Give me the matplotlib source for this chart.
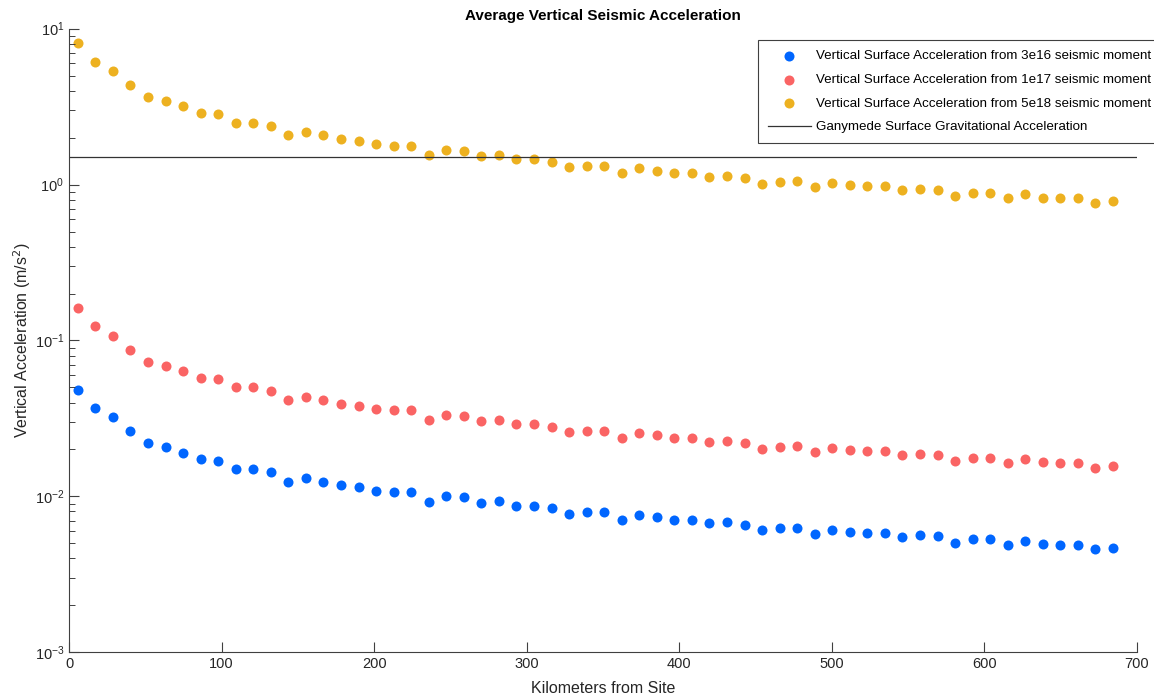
import numpy as np
import matplotlib
matplotlib.use("Agg")
import matplotlib.pyplot as plt

plt.rcParams['font.family'] = ['Liberation Sans', 'DejaVu Sans']

# distance bins (km), centre of each 11.5 km bin
km = np.arange(5.75, 690, 11.5)

acc_3e16 = [0.0484, 0.0368, 0.0322, 0.0262, 0.0220, 0.0206, 0.0191, 0.0173, 0.0169, 0.0150,
            0.0150, 0.0143, 0.0124, 0.0131, 0.0124, 0.0118, 0.0115, 0.0109, 0.0107, 0.0107,
            0.00924, 0.0100, 0.00984, 0.00912, 0.0093, 0.0087, 0.0087, 0.0084, 0.00774, 0.00792,
            0.00792, 0.00708, 0.00762, 0.00738, 0.00708, 0.00708, 0.00672, 0.00681, 0.0066, 0.00606,
            0.00624, 0.0063, 0.00576, 0.00612, 0.00594, 0.00585, 0.00585, 0.00552, 0.00562, 0.00556,
            0.00505, 0.0053, 0.00532, 0.0049, 0.00521, 0.00494, 0.0049, 0.0049, 0.00459, 0.00469]

acc_1e17 = [0.161, 0.123, 0.107, 0.0874, 0.0732, 0.0688, 0.0638, 0.0578, 0.0564, 0.0500,
            0.0500, 0.0476, 0.0414, 0.0436, 0.0414, 0.0392, 0.0382, 0.0364, 0.0356, 0.0356,
            0.0308, 0.0334, 0.0328, 0.0304, 0.0310, 0.0290, 0.0290, 0.0280, 0.0258, 0.0264,
            0.0264, 0.0236, 0.0254, 0.0246, 0.0236, 0.0236, 0.0224, 0.0227, 0.0220, 0.0202,
            0.0208, 0.0210, 0.0192, 0.0204, 0.0198, 0.0195, 0.0195, 0.0184, 0.0187, 0.0185,
            0.0168, 0.0177, 0.0177, 0.0163, 0.0174, 0.0165, 0.0163, 0.0163, 0.0153, 0.0156]

acc_5e18 = [8.06, 6.14, 5.36, 4.37, 3.66, 3.44, 3.19, 2.89, 2.82, 2.50,
            2.50, 2.38, 2.07, 2.18, 2.07, 1.96, 1.91, 1.82, 1.78, 1.78,
            1.54, 1.67, 1.64, 1.52, 1.55, 1.45, 1.45, 1.40, 1.29, 1.32,
            1.32, 1.18, 1.27, 1.23, 1.18, 1.18, 1.12, 1.135, 1.10, 1.01,
            1.04, 1.05, 0.96, 1.02, 0.99, 0.975, 0.975, 0.92, 0.937, 0.927,
            0.841, 0.883, 0.887, 0.817, 0.868, 0.824, 0.817, 0.817, 0.765, 0.782]

g_ganymede = 1.5

fig = plt.figure(figsize=(11.54, 6.98), dpi=100)
ax = fig.add_axes([0.0598, 0.0655, 0.9255, 0.8934])

ms = 52
ax.scatter(km, acc_3e16, s=ms, color='#0066ff', lw=0,
           label='Vertical Surface Acceleration from 3e16 seismic moment')
ax.scatter(km, acc_1e17, s=ms, color='#fa6464', lw=0,
           label='Vertical Surface Acceleration from 1e17 seismic moment')
ax.scatter(km, acc_5e18, s=ms, color='#edb120', lw=0,
           label='Vertical Surface Acceleration from 5e18 seismic moment')
ax.axhline(g_ganymede, color='#333333', lw=0.9,
           label='Ganymede Surface Gravitational Acceleration')

ax.set_yscale('log')
ax.set_xlim(0, 700)
ax.set_ylim(1e-3, 1e1)

for s in ['top', 'right']:
    ax.spines[s].set_visible(False)
for s in ['left', 'bottom']:
    ax.spines[s].set_color('#404040')
    ax.spines[s].set_linewidth(0.8)

ax.tick_params(which='both', direction='in', colors='#404040', labelcolor='#262626',
               labelsize=10.5)
ax.tick_params(which='major', length=7.5, width=0.8)
ax.tick_params(which='minor', length=4.5, width=0.7)
ax.tick_params(axis='x', which='minor', length=0)

ax.set_title('Average Vertical Seismic Acceleration', fontsize=11, fontweight='bold',
             pad=6)
ax.set_xlabel('Kilometers from Site', fontsize=11.5, color='#262626', labelpad=7)
ax.set_ylabel('Vertical Acceleration (m/s$^2$)', fontsize=11.5, color='#262626', labelpad=1)

leg = ax.legend(loc='upper right', bbox_to_anchor=(1.0 + 7 / 1154, 1 - 40 / 698),
                bbox_transform=fig.transFigure, fontsize=9.6, frameon=True,
                fancybox=False, borderaxespad=0, labelspacing=0.85,
                handlelength=3.2, handletextpad=0.4, borderpad=0.75,
                edgecolor='#404040', framealpha=1)
leg.get_frame().set_linewidth(0.8)

fig.savefig('out.png', dpi=100)
